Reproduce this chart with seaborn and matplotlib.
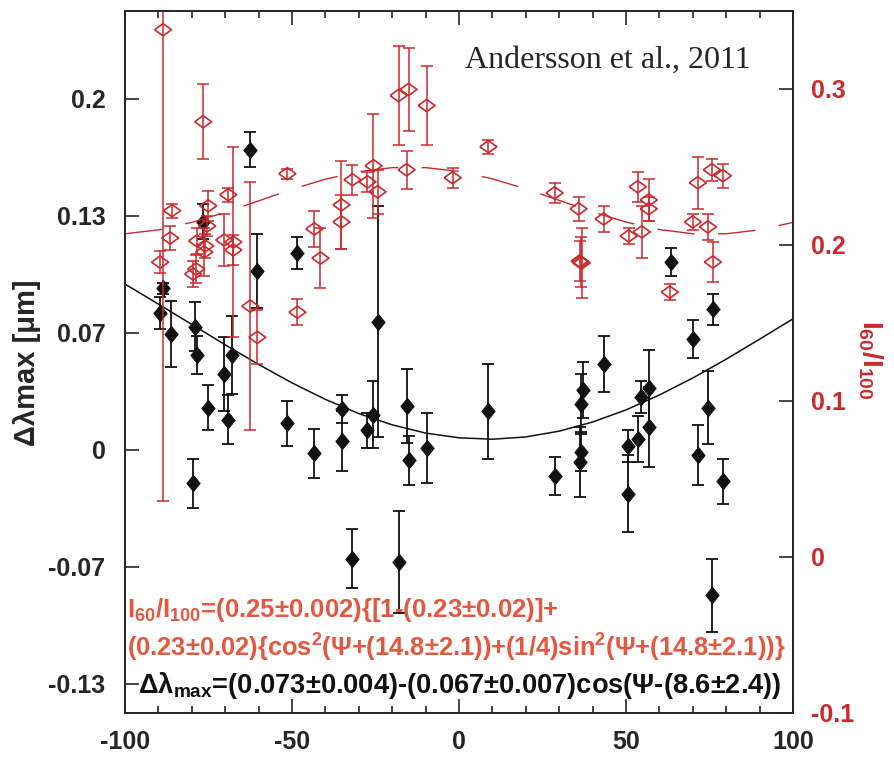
import matplotlib
matplotlib.use('Agg')
import matplotlib.pyplot as plt
import seaborn as sns

# black points: delta lambda_max vs psi (left axis)
psi_dl = [-89.5, -88.6, -86.2, -79.0, -78.4, -79.6, -76.6, -75.1, -70.3, -67.9, -69.1, -62.5,
          -60.4, -51.4, -48.4, -43.3, -34.9, -34.9, -31.9, -27.4, -25.6, -24.4, -18.1, -15.7,
          -15.1, -9.7, 8.8, 28.6, 36.1, 36.4, 36.4, 37.0, 43.3, 50.5, 50.5, 53.5, 54.4, 56.8,
          56.8, 63.4, 70.0, 71.5, 74.5, 75.7, 76.0, 79.0]
dl = [0.078, 0.092, 0.066, 0.070, 0.054, -0.019, 0.130, 0.024, 0.043, 0.054, 0.017, 0.171,
      0.102, 0.015, 0.112, -0.002, 0.023, 0.005, -0.062, 0.011, 0.020, 0.073, -0.064, 0.025,
      -0.006, 0.001, 0.022, -0.015, -0.007, -0.001, 0.026, 0.034, 0.049, -0.025, 0.002, 0.006,
      0.030, 0.035, 0.013, 0.107, 0.063, -0.003, 0.024, -0.083, 0.080, -0.018]
dl_err = [0.009, 0.003, 0.019, 0.014, 0.011, 0.014, 0.010, 0.013, 0.021, 0.022, 0.014, 0.010,
          0.021, 0.013, 0.009, 0.014, 0.008, 0.017, 0.017, 0.010, 0.019, 0.066, 0.029, 0.021,
          0.014, 0.020, 0.027, 0.011, 0.020, 0.011, 0.017, 0.016, 0.016, 0.022, 0.009, 0.013,
          0.009, 0.022, 0.023, 0.008, 0.011, 0.017, 0.021, 0.021, 0.009, 0.013]

# red open diamonds: I60/I100 vs psi (right axis)
psi_ratio = [-88.6, -76.6, -85.9, -86.5, -89.5, -78.4, -79.6, -78.7, -75.1, -75.4, -76.3, -76.0,
             -69.1, -70.3, -67.6, -67.6, -62.5, -60.4, -51.4, -48.4, -43.3, -41.5, -35.2, -35.2,
             -31.9, -27.4, -25.6, -24.4, -18.1, -15.1, -15.7, -9.7, -1.9, 8.8, 28.6, 35.8,
             36.4, 36.7, 36.1, 43.3, 50.8, 53.5, 54.7, 56.8, 56.8, 63.1, 70.0, 71.5, 74.5,
             75.7, 79.0, 76.0]
ratio = [0.338, 0.279, 0.222, 0.2045, 0.189, 0.2026, 0.1814, 0.1846, 0.2251, 0.2122, 0.1955, 0.1994,
         0.2322, 0.2032, 0.2019, 0.1968, 0.1608, 0.1408, 0.2457, 0.1569, 0.2103, 0.1916, 0.2257, 0.2148,
         0.2418, 0.2405, 0.2508, 0.2341, 0.2958, 0.2997, 0.2482, 0.2894, 0.2431, 0.2630, 0.2334, 0.2232,
         0.1891, 0.1884, 0.1897, 0.2167, 0.2058, 0.2373, 0.2084, 0.2289, 0.2232, 0.1698, 0.2148, 0.2399,
         0.2116, 0.2482, 0.2444, 0.1891]
ratio_err = [0.302, 0.024, 0.0045, 0.0077, 0.0071, 0.0084, 0.0084, 0.009, 0.0096, 0.0064, 0.0154, 0.0077,
             0.0045, 0.0167, 0.0611, 0.0096, 0.0797, 0.0174, 0.0032, 0.0084, 0.0116, 0.0193, 0.0283, 0.0174,
             0.0096, 0.0064, 0.0334, 0.0141, 0.0315, 0.0264, 0.0122, 0.0251, 0.0064, 0.0045, 0.0064, 0.0077,
             0.0161, 0.0225, 0.0129, 0.0084, 0.0051, 0.0096, 0.0167, 0.0135, 0.0077, 0.0051, 0.0051, 0.0167,
             0.0084, 0.0071, 0.0077, 0.0129]

# fitted curves, every 10 degrees
fit_psi = [-100, -90, -80, -70, -60, -50, -40, -30, -20, -10, 0, 10, 20, 30, 40, 50, 60, 70, 80, 90, 100]
fit_dl = [0.0944, 0.0830, 0.0714, 0.0598, 0.0486, 0.0381, 0.0287, 0.0206, 0.0142, 0.0095, 0.0068,
          0.0060, 0.0073, 0.0106, 0.0158, 0.0227, 0.0312, 0.0409, 0.0516, 0.0630, 0.0746]
fit_ratio = [0.2072, 0.2097, 0.2145, 0.2209, 0.2283, 0.2357, 0.2422, 0.2470, 0.2496, 0.2496, 0.2472,
             0.2424, 0.2360, 0.2286, 0.2212, 0.2147, 0.2099, 0.2072, 0.2072, 0.2097, 0.2145]

left_ticks = [-0.1333, -0.0667, 0, 0.0667, 0.1333, 0.2]
left_ticklabels = ['-0.13', '-0.07', '0', '0.07', '0.13', '0.2']
right_ticks = [-0.1, 0, 0.1, 0.2, 0.3]
right_ticklabels = ['-0.1', '0', '0.1', '0.2', '0.3']
x_ticks = [-100, -50, 0, 50, 100]

red = '#c92a2e'
red_text = '#e4583f'
black = '#111111'

# diamond shapes (closed paths)
black_diamond = [(-0.82, 0), (0, 1), (0.82, 0), (0, -1), (-0.82, 0)]
red_diamond = [(-1, 0), (0, 0.72), (1, 0), (0, -0.72), (-1, 0)]

sns.set_style('ticks')
plt.rcParams['font.family'] = ['Liberation Sans', 'DejaVu Sans']
plt.rcParams['font.weight'] = 'bold'
plt.rcParams['mathtext.default'] = 'regular'
plt.rcParams['axes.linewidth'] = 1.3

fig = plt.figure(figsize=(8.95, 7.58), dpi=100)
ax = fig.add_axes([125 / 895, 45 / 758, 668 / 895, 702 / 758])
ax2 = ax.twinx()

# black data + fit
ax.errorbar(psi_dl, dl, yerr=dl_err, fmt='none', ecolor=black, elinewidth=1.3, capsize=4, capthick=1.3)
sns.scatterplot(x=psi_dl, y=dl, ax=ax, marker=black_diamond,
                s=140, color=black, edgecolor=black, linewidth=0.6, zorder=3)
sns.lineplot(x=fit_psi, y=fit_dl, ax=ax, color=black, linewidth=1.1)

# red data + fit
ax2.errorbar(psi_ratio, ratio, yerr=ratio_err, fmt='none', ecolor=red, elinewidth=1.1, capsize=4, capthick=1.1)
sns.scatterplot(x=psi_ratio, y=ratio, ax=ax2, marker=red_diamond,
                s=150, facecolor='none', edgecolor=red, linewidth=1.2, zorder=3)
sns.lineplot(x=fit_psi, y=fit_ratio, ax=ax2, color=red, linewidth=1.0, linestyle=(0, (27, 17)))

ax.set_xlim(-100, 100)
ax.set_ylim(-0.15, 0.25)
ax2.set_ylim(-0.1, 0.35)

ax.set_xticks(x_ticks)
ax.set_xticklabels([str(t) for t in x_ticks])
ax.set_xticks(range(-90, 100, 10), minor=True)
ax.set_yticks(left_ticks)
ax.set_yticklabels(left_ticklabels)
ax2.set_yticks(right_ticks)
ax2.set_yticklabels(right_ticklabels)

ax.tick_params(axis='x', which='major', direction='in', top=True, length=10, width=1.2, pad=12, labelsize=18)
ax.tick_params(axis='x', which='minor', direction='in', top=True, length=5, width=1.2)
ax.tick_params(axis='y', direction='in', left=True, right=False, length=10, width=1.2, pad=14, labelsize=18)
ax2.tick_params(axis='y', direction='in', right=True, length=10, width=1.2, pad=13, labelsize=18,
                labelcolor=red)
for lab in ax.get_xticklabels() + ax.get_yticklabels() + ax2.get_yticklabels():
    lab.set_fontweight('bold')

ax.set_xlabel('')
ax.set_ylabel('Δλmax [μm]', fontsize=21, fontweight='bold')
ax.yaxis.set_label_coords(-0.125, 0.499)
ax2.set_ylabel(r'I$_{60}$/I$_{100}$', fontsize=20, fontweight='bold', color=red, rotation=-90,
               va='center', ha='center')
ax2.yaxis.set_label_coords(1.115, 0.503)

ax.text(0.509, 0.919, 'Andersson et al., 2011', transform=ax.transAxes, ha='left', va='baseline',
        fontsize=23, fontweight='normal', family='Liberation Serif')

ax.text(0.003, (713 - 617) / 702, r'I$_{60}$/I$_{100}$=(0.25±0.002){[1-(0.23±0.02)]+',
        transform=ax.transAxes, ha='left', va='baseline', fontsize=18.5, fontweight='bold', color=red_text)
ax.text(0.003, (713 - 657) / 702,
        r'(0.23±0.02){cos$^{2}$(Ψ+(14.8±2.1))+(1/4)sin$^{2}$(Ψ+(14.8±2.1))}',
        transform=ax.transAxes, ha='left', va='baseline', fontsize=18.4, fontweight='bold', color=red_text)
ax.text(0.0195, (713 - 693) / 702, r'Δλ$_{max}$=(0.073±0.004)-(0.067±0.007)cos(Ψ-(8.6±2.4))',
        transform=ax.transAxes, ha='left', va='baseline', fontsize=19.6, fontweight='bold', color=black)

fig.savefig('out.png', dpi=100)
